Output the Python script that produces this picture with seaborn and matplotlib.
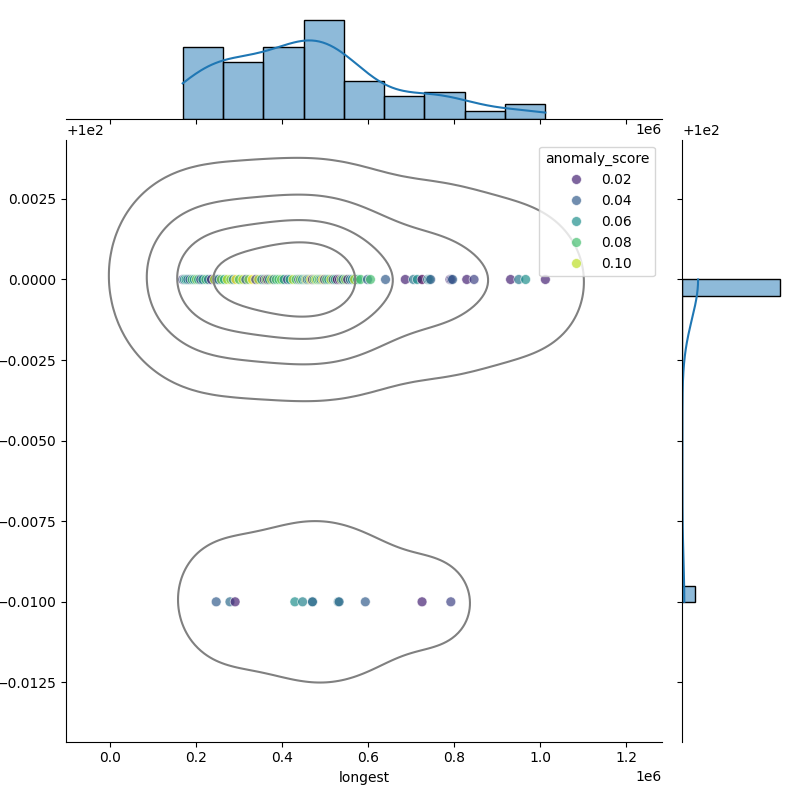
import numpy as np
import pandas as pd
import seaborn as sns
import matplotlib
matplotlib.use("Agg")
import matplotlib.pyplot as plt

# upper row (value 100.0)
x_upper = [0.168, 0.172, 0.176, 0.180, 0.185, 0.190, 0.195, 0.200, 0.205, 0.210, 0.215, 0.222, 0.228, 0.235, 0.242, 0.248, 0.252, 0.258,
           0.265, 0.272, 0.280, 0.286, 0.292, 0.300, 0.308, 0.315, 0.322, 0.330, 0.338, 0.345, 0.352,
           0.358, 0.362, 0.366, 0.370, 0.375, 0.380, 0.386, 0.392, 0.398, 0.404, 0.412, 0.418, 0.425, 0.432, 0.438, 0.442, 0.447,
           0.452, 0.455, 0.458, 0.462, 0.466, 0.470, 0.474, 0.478, 0.482, 0.486, 0.490, 0.494, 0.498, 0.503, 0.508, 0.513, 0.518, 0.523, 0.528, 0.533, 0.537, 0.541,
           0.547, 0.552, 0.558, 0.563, 0.568, 0.575, 0.582, 0.598, 0.605,
           0.640, 0.686, 0.705, 0.714, 0.725,
           0.738, 0.742, 0.745, 0.790, 0.793, 0.796,
           0.829, 0.846,
           0.931, 0.950, 0.966, 1.012]
score_upper = [0.03, 0.06, 0.07, 0.05, 0.04, 0.08, 0.06, 0.09, 0.07, 0.03, 0.06, 0.08, 0.05, 0.02, 0.10, 0.06, 0.04, 0.09,
               0.07, 0.10, 0.09, 0.05, 0.11, 0.08, 0.10, 0.04, 0.09, 0.11, 0.03, 0.10, 0.06,
               0.02, 0.09, 0.01, 0.07, 0.10, 0.05, 0.08, 0.08, 0.09, 0.06, 0.03, 0.07, 0.10, 0.08, 0.04, 0.09, 0.06,
               0.06, 0.10, 0.04, 0.06, 0.11, 0.02, 0.08, 0.10, 0.07, 0.09, 0.05, 0.11, 0.03, 0.08, 0.06, 0.10, 0.04, 0.07, 0.01, 0.02, 0.09, 0.05,
               0.09, 0.02, 0.05, 0.06, 0.10, 0.07, 0.08, 0.04, 0.08,
               0.04, 0.02, 0.05, 0.06, 0.01,
               0.05, 0.06, 0.04, 0.02, 0.03, 0.04,
               0.02, 0.03,
               0.02, 0.05, 0.06, 0.02]
# lower row (value 99.99)
x_lower = [0.246, 0.278, 0.290, 0.429, 0.447, 0.470, 0.470, 0.530, 0.532, 0.593, 0.725, 0.792]
score_lower = [0.04, 0.045, 0.02, 0.06, 0.055, 0.05, 0.045, 0.05, 0.045, 0.04, 0.02, 0.03]

y_values = [100.0, 99.99]

longest = np.array(x_upper + x_lower) * 1e6
yv = np.array([y_values[0]] * len(x_upper) + [y_values[1]] * len(x_lower))
scores = np.array(score_upper + score_lower)

df = pd.DataFrame({"longest": longest, "value": yv, "anomaly_score": scores})

g = sns.JointGrid(data=df, x="longest", y="value", height=8)
sns.scatterplot(data=df, x="longest", y="value", hue="anomaly_score", palette="viridis",
                alpha=0.7, s=50, ax=g.ax_joint)
sns.kdeplot(data=df, x="longest", y="value", color="gray", levels=5, ax=g.ax_joint)
sns.histplot(data=df, x="longest", bins=9, kde=True, ax=g.ax_marg_x)
sns.histplot(data=df, y="value", bins=20, kde=True, ax=g.ax_marg_y)
g.ax_marg_x.set_xlabel("")
g.ax_marg_y.set_ylabel("")
g.set_axis_labels("longest", "")
g.figure.savefig("out.png", dpi=100)
